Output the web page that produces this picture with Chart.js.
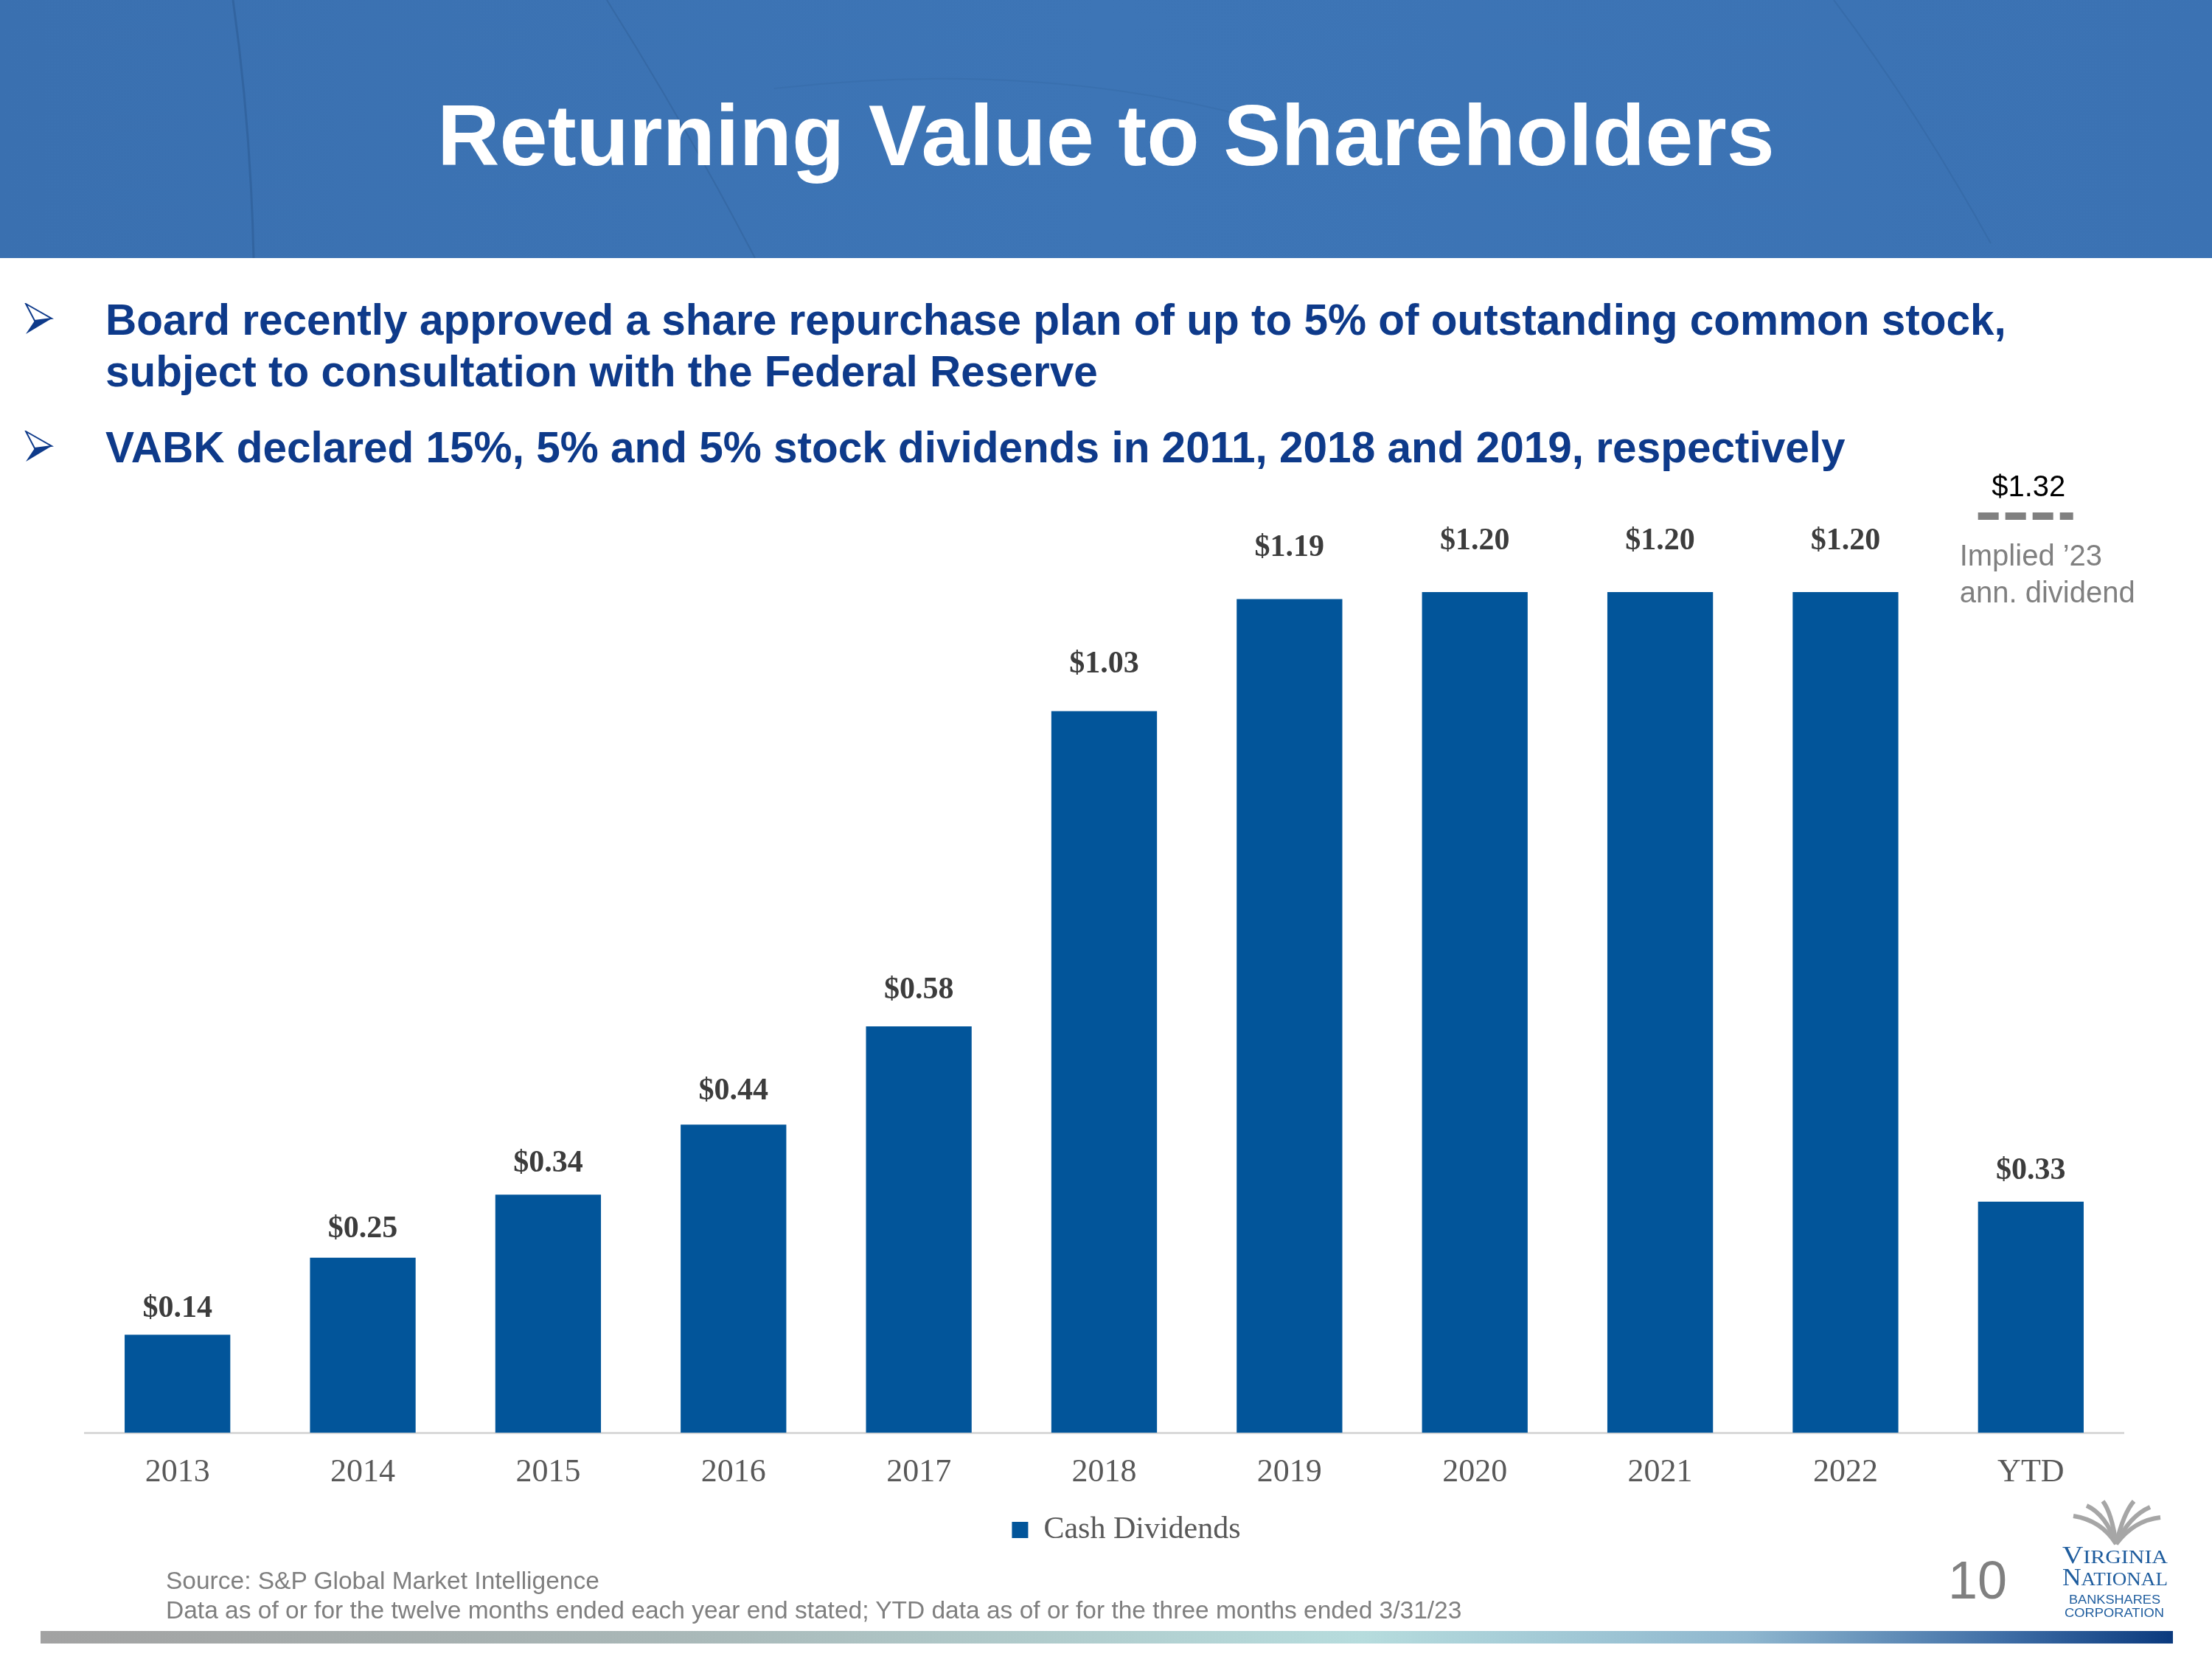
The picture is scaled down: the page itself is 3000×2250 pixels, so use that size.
<!DOCTYPE html>
<html>
<head>
<meta charset="utf-8">
<script src="https://cdn.jsdelivr.net/npm/chart.js@4.4.0/dist/chart.umd.min.js"></script>
<style>
  html, body { margin:0; padding:0; background:#ffffff; }
  #page { position:relative; width:3000px; height:2250px; overflow:hidden; background:#ffffff; }
  #header { position:absolute; left:0; top:0; width:3000px; height:350px; background:linear-gradient(90deg,#3a70b0 0%,#3d75b6 50%,#3b72b3 100%); }
  .t { position:absolute; white-space:nowrap; font-family:"Liberation Sans", Arial, sans-serif; }
  #title { left:0; width:3000px; text-align:center; top:125px; font-size:117px; line-height:117px; font-weight:bold; color:#ffffff; }
  .bullet { font-size:58.5px; line-height:70px; font-weight:bold; color:#0e3a8a; left:143px; }
  .foot { font-size:33.5px; line-height:40px; color:#7f7f7f; left:225px; }
  #pnum { left:2642px; top:2107px; font-size:72px; line-height:72px; color:#808080; }
  #chartBox { position:absolute; left:0; top:0; width:3000px; height:2250px; }
  #bottomBar { position:absolute; left:55px; top:2212px; width:2892px; height:17px;
    background:linear-gradient(90deg,#a2a2a2 0%,#a9b8b8 30%,#b6dcdd 62%,#8fb7cf 80%,#3f6ea6 92%,#0b3a7e 100%); }
</style>
</head>
<body>
<div id="page">
  <div id="header">
    <svg width="3000" height="350" style="position:absolute;left:0;top:0">
      <path d="M316,0 Q340,170 344,350" stroke="#2f5f98" stroke-width="3" fill="none" opacity="0.7"/>
      <path d="M823,0 Q930,170 1024,350" stroke="#2f5f98" stroke-width="2" fill="none" opacity="0.5"/>
      <path d="M2487,0 Q2600,150 2700,330" stroke="#2f5f98" stroke-width="2" fill="none" opacity="0.35"/>
      <path d="M1050,120 Q1400,80 1700,160" stroke="#2f5f98" stroke-width="2" fill="none" opacity="0.2"/>
    </svg>
  </div>
  <div class="t" id="title">Returning Value to Shareholders</div>

  <svg width="40" height="44" style="position:absolute;left:33px;top:411px">
    <polygon points="2,1 37,21 14,24" fill="#ffffff" stroke="#0e3a8a" stroke-width="2"/>
    <polygon points="14,24 37,21 2,42" fill="#0e3a8a"/>
  </svg>
  <div class="t bullet" style="top:399px">Board recently approved a share repurchase plan of up to 5% of outstanding common stock,<br>subject to consultation with the Federal Reserve</div>
  <svg width="40" height="44" style="position:absolute;left:33px;top:584px">
    <polygon points="2,1 37,21 14,24" fill="#ffffff" stroke="#0e3a8a" stroke-width="2"/>
    <polygon points="14,24 37,21 2,42" fill="#0e3a8a"/>
  </svg>
  <div class="t bullet" style="top:572px">VABK declared 15%, 5% and 5% stock dividends in 2011, 2018 and 2019, respectively</div>

  <div id="chartBox"><canvas id="c" width="3000" height="2250"></canvas></div>

  <div class="t foot" style="top:2124px">Source: S&amp;P Global Market Intelligence<br>Data as of or for the twelve months ended each year end stated; YTD data as of or for the three months ended 3/31/23</div>
  <div class="t" id="pnum">10</div>

  <svg width="170" height="170" style="position:absolute;left:2790px;top:2032px">
    <g fill="none" stroke="#a6a6a6" stroke-width="6">
      <path d="M80,62 Q60,30 22,24"/>
      <path d="M80,62 Q66,22 40,10"/>
      <path d="M80,62 Q74,20 62,4"/>
      <path d="M80,62 Q90,20 104,4"/>
      <path d="M80,62 Q98,24 126,12"/>
      <path d="M80,62 Q104,30 140,26"/>
    </g>
    <g fill="#1f5d9e" font-family="Liberation Serif, serif">
      <text x="7" y="88" font-size="26" textLength="143" lengthAdjust="spacingAndGlyphs"><tspan font-size="34">V</tspan>IRGINIA</text>
      <text x="7" y="118" font-size="26" textLength="143" lengthAdjust="spacingAndGlyphs"><tspan font-size="34">N</tspan>ATIONAL</text>
    </g>
    <g fill="#1f5d9e" font-family="Liberation Sans, sans-serif">
      <text x="16" y="143" font-size="16" textLength="124" lengthAdjust="spacingAndGlyphs">BANKSHARES</text>
      <text x="10" y="161" font-size="16" textLength="135" lengthAdjust="spacingAndGlyphs">CORPORATION</text>
    </g>
  </svg>

  <div id="bottomBar"></div>
</div>

<script>
// ---- data ----
const categories = ['2013','2014','2015','2016','2017','2018','2019','2020','2021','2022','YTD'];
const cashDividends = [0.14, 0.25, 0.34, 0.44, 0.58, 1.03, 1.19, 1.20, 1.20, 1.20, 0.33];
const seriesName = 'Cash Dividends';
const impliedAnnualDividend = 1.32;
const impliedCategory = 'YTD';
const impliedLabelLines = ["Implied \u201923", "ann. dividend"];

const barColor = '#02559a';

const valueLabelPlugin = {
  id: 'valueLabels',
  afterDatasetsDraw(chart) {
    const ctx = chart.ctx;
    const meta = chart.getDatasetMeta(0);
    ctx.save();
    ctx.font = 'bold 42px "Liberation Serif", serif';
    ctx.fillStyle = '#3c3c3c';
    ctx.textAlign = 'center';
    ctx.textBaseline = 'alphabetic';
    meta.data.forEach((bar, i) => {
      const v = chart.data.datasets[0].data[i];
      ctx.fillText('$' + v.toFixed(2), bar.x, bar.y - (20 + 32 * v));
    });
    ctx.restore();
  }
};

const impliedPlugin = {
  id: 'implied',
  afterDatasetsDraw(chart) {
    const ctx = chart.ctx;
    const idx = chart.data.labels.indexOf(impliedCategory);
    const bar = chart.getDatasetMeta(0).data[idx];
    const y = chart.scales.y.getPixelForValue(impliedAnnualDividend);
    const half = bar.width / 2;
    ctx.save();
    ctx.strokeStyle = '#808080';
    ctx.lineWidth = 10;
    ctx.setLineDash([28, 9]);
    ctx.beginPath();
    ctx.moveTo(bar.x - half, y + 11);
    ctx.lineTo(bar.x - half + 129, y + 11);
    ctx.stroke();
    ctx.setLineDash([]);
    ctx.textBaseline = 'alphabetic';
    ctx.font = '40px "Liberation Sans", Arial, sans-serif';
    ctx.fillStyle = '#000000';
    ctx.textAlign = 'center';
    ctx.fillText('$' + impliedAnnualDividend.toFixed(2), bar.x - 3, y - 16);
    ctx.fillStyle = '#808080';
    ctx.textAlign = 'left';
    impliedLabelLines.forEach((line, k) => {
      ctx.fillText(line, bar.x - half - 25, y + 78 + k * 50);
    });
    ctx.restore();
  }
};

new Chart(document.getElementById('c'), {
  type: 'bar',
  data: {
    labels: categories,
    datasets: [{
      label: seriesName,
      data: cashDividends,
      backgroundColor: barColor,
      borderWidth: 0,
      barPercentage: 0.57,
      categoryPercentage: 1.0
    }]
  },
  options: {
    responsive: false,
    animation: false,
    devicePixelRatio: 1,
    layout: { padding: { left: 115, right: 60, top: 613, bottom: 144 } },
    scales: {
      x: {
        grid: { display: false, drawTicks: false },
        border: { display: true, color: '#d9d9d9', width: 3 },
        ticks: { color: '#595959', font: { family: '"Liberation Serif", serif', size: 44 }, padding: 28 }
      },
      y: {
        display: true, position: 'right', min: 0, max: 1.4,
        grid: { display: false, drawTicks: false },
        border: { display: false },
        ticks: { display: false },
        afterFit: (scale) => { scale.width = 60; }
      }
    },
    plugins: {
      legend: {
        display: true,
        position: 'bottom',
        labels: {
          boxWidth: 22, boxHeight: 22, padding: 2,
          color: '#595959',
          font: { family: '"Liberation Serif", serif', size: 42 }
        }
      },
      tooltip: { enabled: false }
    }
  },
  plugins: [valueLabelPlugin, impliedPlugin]
});
</script>
</body>
</html>
